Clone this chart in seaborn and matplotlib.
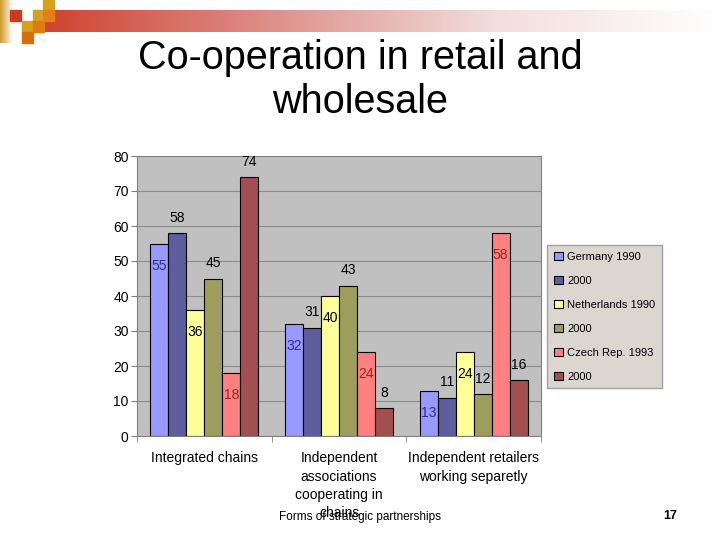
import numpy as np
import pandas as pd
import seaborn as sns
import matplotlib.pyplot as plt
from matplotlib.patches import Rectangle
from matplotlib.colors import LinearSegmentedColormap

categories = ["Integrated chains",
              "Independent\nassociations\ncooperating in\nchains",
              "Independent retailers\nworking separetly"]
series = ["Germany 1990", "Germany 2000", "Netherlands 1990",
          "Netherlands 2000", "Czech Rep. 1993", "Czech Rep. 2000"]
legend_labels = ["Germany 1990", "2000", "Netherlands 1990", "2000",
                 "Czech Rep. 1993", "2000"]
germany_1990 = [55, 32, 13]
germany_2000 = [58, 31, 11]
netherlands_1990 = [36, 40, 24]
netherlands_2000 = [45, 43, 12]
czech_1993 = [18, 24, 58]
czech_2000 = [74, 8, 16]
colors = ["#9999FF", "#5E5E9E", "#FFFF99", "#9E9E5C", "#FF8080", "#A34F4F"]
label_colors = ["#2E2E8A", "black", "black", "black", "#8A2A2A", "black"]

values = [germany_1990, germany_2000, netherlands_1990,
          netherlands_2000, czech_1993, czech_2000]
rows = []
for s, vals in zip(series, values):
    for c, v in zip(categories, vals):
        rows.append({"category": c, "series": s, "value": v})
df = pd.DataFrame(rows)

sns.set_style("white")
plt.rcParams['font.family'] = ['Liberation Sans', 'DejaVu Sans']
plt.rcParams['text.color'] = 'black'
plt.rcParams['xtick.color'] = 'black'
plt.rcParams['ytick.color'] = 'black'

fig = plt.figure(figsize=(7.2, 5.4), dpi=100)

# slide decoration: gradient bar and squares at top left
bar_ax = fig.add_axes([45 / 720, 1 - 32 / 540, 1 - 45 / 720, 22 / 540])
red_cmap = LinearSegmentedColormap.from_list("r", ["#CF4430", "#DE8F8A", "#F2DEDC", "#FFFFFF"])
bar_ax.imshow(np.linspace(0, 1, 256).reshape(1, -1), cmap=red_cmap, aspect="auto")
bar_ax.axis("off")
gold_ax = fig.add_axes([0, 1 - 43 / 540, 13 / 720, 43 / 540])
gold_cmap = LinearSegmentedColormap.from_list("g", ["#D09A28", "#FFFFFF"])
gold_ax.imshow(np.linspace(0, 1, 64).reshape(1, -1), cmap=gold_cmap, aspect="auto")
gold_ax.axis("off")
squares = [(10, 10, "#CF3A1E"), (33, 10, "#D6A21E"), (43, 0, "#D6A21E"),
           (22, 21, "#D6A21E"), (33, 21, "#E07A10"), (43, 10, "#E0821A"),
           (22, 32, "#D2700E")]
for x, y, c in squares:
    fig.patches.append(Rectangle((x / 720, 1 - (y + 11) / 540), 11 / 720, 11 / 540,
                                 transform=fig.transFigure, color=c, zorder=3))

fig.text(0.5, 1 - 80 / 540, "Co-operation in retail and\nwholesale", ha="center",
         va="center", fontsize=28.5, linespacing=1.2, color="black")

ax = fig.add_axes([137 / 720, 1 - 436 / 540, 404 / 720, 280 / 540])
sns.barplot(data=df, x="category", y="value", hue="series", palette=colors,
            edgecolor="black", linewidth=0.8, width=0.8, saturation=1,
            ax=ax, legend=True)
ax.set_facecolor("#C0C0C0")
ax.set_ylim(0, 80)
ax.set_yticks(range(0, 81, 10))
ax.yaxis.grid(True, color="#8C8C8C", linewidth=0.8)
ax.set_axisbelow(True)
ax.set_xlabel("")
ax.set_ylabel("")
for s in ax.spines.values():
    s.set_color("#808080")
ax.tick_params(axis="y", left=True, length=4, color="#808080", labelsize=10, pad=2)
ax.tick_params(axis="x", which="major", length=0, labelsize=10, pad=11)
for lbl in ax.get_xticklabels():
    lbl.set_linespacing(1.4)
ax.set_xticks([-0.5, 0.5, 1.5, 2.5], minor=True)
ax.tick_params(axis="x", which="minor", bottom=True, length=4, color="#808080")

for i, cont in enumerate(ax.containers):
    for bar in cont:
        h = bar.get_height()
        xc = bar.get_x() + bar.get_width() / 2
        if i % 2 == 0:
            ax.annotate(f"{h:.0f}", (xc, h), xytext=(0, -16), textcoords="offset points",
                        ha="center", va="center", fontsize=10, color=label_colors[i])
        else:
            ax.annotate(f"{h:.0f}", (xc, h), xytext=(0, 11), textcoords="offset points",
                        ha="center", va="center", fontsize=10, color=label_colors[i])

handles, _ = ax.get_legend_handles_labels()
ax.legend_.remove()
leg = fig.legend(handles, legend_labels, loc="upper left",
                 bbox_to_anchor=(547 / 720, 1 - 245 / 540), bbox_transform=fig.transFigure,
                 fontsize=8, frameon=True, fancybox=False, handlelength=0.8,
                 handleheight=0.8, handletextpad=0.4, labelspacing=1.25,
                 borderpad=0.6, borderaxespad=0)
leg.get_frame().set_facecolor("#DCD6D0")
leg.get_frame().set_edgecolor("#A0A0A0")
leg.get_frame().set_alpha(1)

fig.text(0.5, 1 - 517 / 540, "Forms of strategic partnerships", ha="center",
         va="center", fontsize=8.5)
fig.text(670 / 720, 1 - 516 / 540, "17", ha="center", va="center", fontsize=9,
         fontweight="bold")

fig.savefig("out.png", dpi=100)
